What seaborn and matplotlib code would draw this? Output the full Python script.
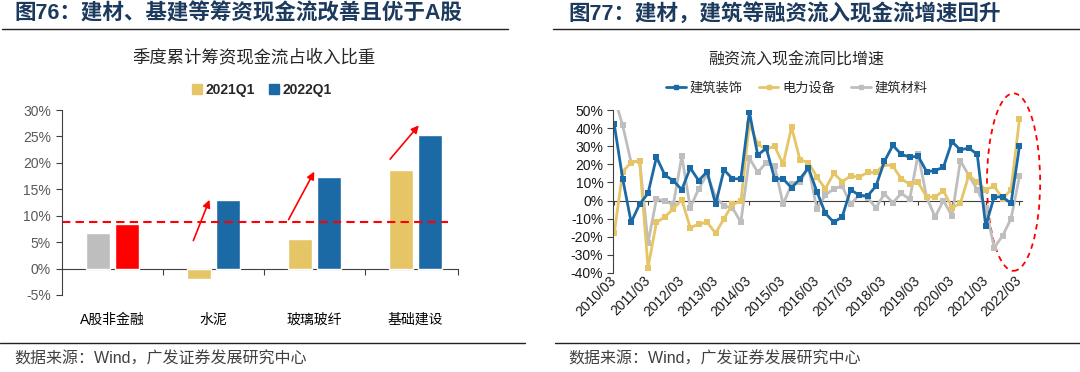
import numpy as np
import pandas as pd
import seaborn as sns
import matplotlib.pyplot as plt
from matplotlib.patches import Ellipse, Patch
from matplotlib.lines import Line2D
from matplotlib.ticker import PercentFormatter

sns.set_style('white')
plt.rcParams['font.family'] = ['Liberation Sans', 'Noto Sans CJK SC']
plt.rcParams['axes.unicode_minus'] = False

# ---- left chart data (% of revenue) ----
categories = ['A股非金融', '水泥', '玻璃玻纤', '基础建设']
q2021 = [6.8, -2.0, 5.6, 18.7]
q2022 = [8.5, 12.9, 17.4, 25.3]
ref_level = 8.8

# ---- right chart data (yoy %, quarterly 2010/03 - 2022/03) ----
year_labels = ['2010/03', '2011/03', '2012/03', '2013/03', '2014/03', '2015/03', '2016/03',
               '2017/03', '2018/03', '2019/03', '2020/03', '2021/03', '2022/03']
decor = [42, 12, -12, -2, 4, 24, 14, 11, 6, 18, 11, 16, -2, 17, 12, 12, 49, 25, 29, 12,
         12, 7, 12, 18, 5, -7, -12, -9, 6, 3, 2.5, 8, 21.6, 30.5, 25.5, 24, 24.5, 16, 16.5, 18.5,
         32.5, 28, 29, 25.5, -14, 2, 2, -1.5, 30]
power = [-18, 16, 21, 22, -37, -12, -9, -4.5, 0.5, -15, -13, -12, -18, -10, -2, -0.5, 42.5, 31, 28.5, 30,
         20, 40.5, 22.5, 21, 13, 6.5, 15, 10.5, 13.5, 13, 15.5, 15.5, 20, 19, 12, 9, 10, 2, 2, 5.5,
         -4, -1.5, 14, 10, 6, 8, 1, 6, 45]
material = [57, 41.5, 21, 22, -23.5, 1, -0.5, -2, 24.5, -4, 6.5, 14.5, 2, -3, -4, -12, 23.5, 15.5, 21, 19,
            -2, 9, 10, 18.5, -4.5, 3, 6.5, 8, -2, 3, 1.5, -4, 3.7, -1.2, 4, 0.7, 25.8, 1.8, -9, 0,
            -8.5, 22, 13.8, 6, -4, -26, -19.5, -10, 13.3]
series_names = ['建筑装饰', '电力设备', '建筑材料']

YELLOW = '#E6C567'
BLUE = '#1B69A5'
GRAY = '#BEBEBE'
RED = '#FF0000'
NAVY = '#1C3A5E'

W, H = 1080, 372
fig = plt.figure(figsize=(W / 100, H / 100), dpi=100)


def fx(px):
    return px / W


def fy(py):
    return 1 - py / H


# ---------------- left: bar chart ----------------
ax1 = fig.add_axes([fx(62), fy(295), fx(458 - 62), fy(110) - fy(295)])
df_bar = pd.DataFrame({
    'cat': categories * 2,
    'period': ['2021Q1'] * len(categories) + ['2022Q1'] * len(categories),
    'val': q2021 + q2022,
})
sns.barplot(data=df_bar, x='cat', y='val', hue='period', palette=[YELLOW, BLUE],
            width=0.574, gap=0.2, saturation=1, errorbar=None, legend=False, ax=ax1)
ax1.containers[0][0].set_facecolor(GRAY)
ax1.containers[1][0].set_facecolor(RED)

ax1.set_xlim(-0.5, 3.42)
ax1.set_ylim(-5, 30)
ax1.set_yticks(np.arange(-5, 31, 5))
ax1.yaxis.set_major_formatter(PercentFormatter(100, decimals=0))
ax1.set_xlabel('')
ax1.set_ylabel('')
for s in ['top', 'right', 'bottom']:
    ax1.spines[s].set_visible(False)
ax1.spines['left'].set_color('#404040')
ax1.tick_params(axis='y', left=True, length=4, color='#404040', labelsize=10, labelcolor='#595959', pad=4)
ax1.tick_params(axis='x', length=0, labelsize=10, pad=13)
for t in ax1.get_xticklabels():
    t.set_color('black')

zero1 = ax1.secondary_xaxis(5 / 35)
zero1.set_xticks([0.5, 1.5, 2.5, 3.42], labels=['', '', '', ''])
zero1.tick_params(length=4, color='#404040')
zero1.spines['bottom'].set_color('#404040')

ax1.axhline(ref_level, xmin=0, xmax=0.975, color=RED, lw=1.5, ls=(0, (4, 2.5)))
arrows = [((0.79, 4.8), (0.97, 13.5)), ((1.73, 8.8), (2.01, 18.8)), ((2.73, 20.3), (3.05, 27.5))]
for start, end in arrows:
    ax1.annotate('', xy=end, xytext=start,
                 arrowprops=dict(arrowstyle='-|>', color=RED, lw=1.2, mutation_scale=11))

ax1.legend(handles=[Patch(color=YELLOW, label='2021Q1'), Patch(color=BLUE, label='2022Q1')],
           loc='center', bbox_to_anchor=(fx(262), fy(90)), bbox_transform=fig.transFigure,
           ncol=2, frameon=False, handlelength=0.7, handleheight=0.7, handletextpad=0.3,
           columnspacing=1.0, prop={'weight': 'bold', 'size': 10})

# ---------------- right: line chart ----------------
ax2 = fig.add_axes([fx(613), fy(273), fx(1022 - 613), fy(110) - fy(273)])
n = len(decor)
df_line = pd.DataFrame({
    'q': list(range(n)) * 3,
    'series': [series_names[0]] * n + [series_names[1]] * n + [series_names[2]] * n,
    'val': decor + power + material,
})
palette = {series_names[0]: BLUE, series_names[1]: YELLOW, series_names[2]: GRAY}
sns.lineplot(data=df_line, x='q', y='val', hue='series', hue_order=series_names[::-1],
             palette=palette, marker='s', markersize=4.5, markeredgewidth=0, linewidth=2,
             legend=False, ax=ax2)
ax2.set_xlim(-0.15, 48.3)
ax2.set_ylim(-40, 50)
ax2.set_yticks(np.arange(-40, 51, 10))
ax2.yaxis.set_major_formatter(PercentFormatter(100, decimals=0))
ax2.set_xticks(range(0, n, 4), labels=year_labels)
ax2.set_xlabel('')
ax2.set_ylabel('')
for s in ['top', 'right', 'bottom']:
    ax2.spines[s].set_visible(False)
ax2.spines['left'].set_color('#404040')
ax2.tick_params(axis='y', left=True, length=4, color='#404040', labelsize=10, labelcolor='#1a1a1a', pad=3)
ax2.tick_params(axis='x', length=0, labelsize=10, pad=4, labelcolor='#1a1a1a')
for t in ax2.get_xticklabels():
    t.set_rotation(45)
    t.set_ha('right')
    t.set_va('center')
    t.set_rotation_mode('anchor')

zero2 = ax2.secondary_xaxis(40 / 90)
zero2.set_xticks(range(0, n, 4), labels=[''] * len(year_labels))
zero2.tick_params(length=3, color='#404040')
zero2.spines['bottom'].set_color('#404040')

ax2.add_patch(Ellipse((47.3, 10.2), 6.3, 98, fill=False, ec=RED, lw=1.3,
                      ls=(0, (3, 2.5)), clip_on=False))

ax2.legend(handles=[Line2D([], [], color=palette[s], lw=2, marker='s', markersize=3.5, label=s)
                    for s in series_names],
           loc='center', bbox_to_anchor=(fx(797), fy(88)), bbox_transform=fig.transFigure,
           ncol=3, frameon=False, handlelength=1.5, handletextpad=0.3, columnspacing=1.2,
           prop={'size': 9.5})

# ---------------- headers, titles, sources ----------------
fig.text(fx(14), fy(14), '图76：建材、基建等筹资现金流改善且优于A股', fontsize=15.5,
         fontweight='bold', color=NAVY, va='center', ha='left')
fig.text(fx(568), fy(14), '图77：建材，建筑等融资流入现金流增速回升', fontsize=15.5,
         fontweight='bold', color=NAVY, va='center', ha='left')
fig.add_artist(Line2D([fx(2), fx(508)], [fy(29), fy(29)], transform=fig.transFigure, color='#222222', lw=1))
fig.add_artist(Line2D([fx(553), fx(1080)], [fy(29), fy(29)], transform=fig.transFigure, color='#222222', lw=1))

fig.text(fx(254), fy(57), '季度累计筹资现金流占收入比重', fontsize=12.5, color='#262626',
         va='center', ha='center')
fig.text(fx(796), fy(60), '融资流入现金流同比增速', fontsize=11.5, color='#262626',
         va='center', ha='center')

fig.add_artist(Line2D([fx(0), fx(525)], [fy(343), fy(343)], transform=fig.transFigure, color='#222222', lw=1))
fig.add_artist(Line2D([fx(555), fx(1080)], [fy(343), fy(343)], transform=fig.transFigure, color='#222222', lw=1))
fig.text(fx(14), fy(359), '数据来源：Wind，广发证券发展研究中心', fontsize=11.5, color='#404040',
         va='center', ha='left')
fig.text(fx(568), fy(359), '数据来源：Wind，广发证券发展研究中心', fontsize=11.5, color='#404040',
         va='center', ha='left')

fig.savefig('out.png', dpi=100)
